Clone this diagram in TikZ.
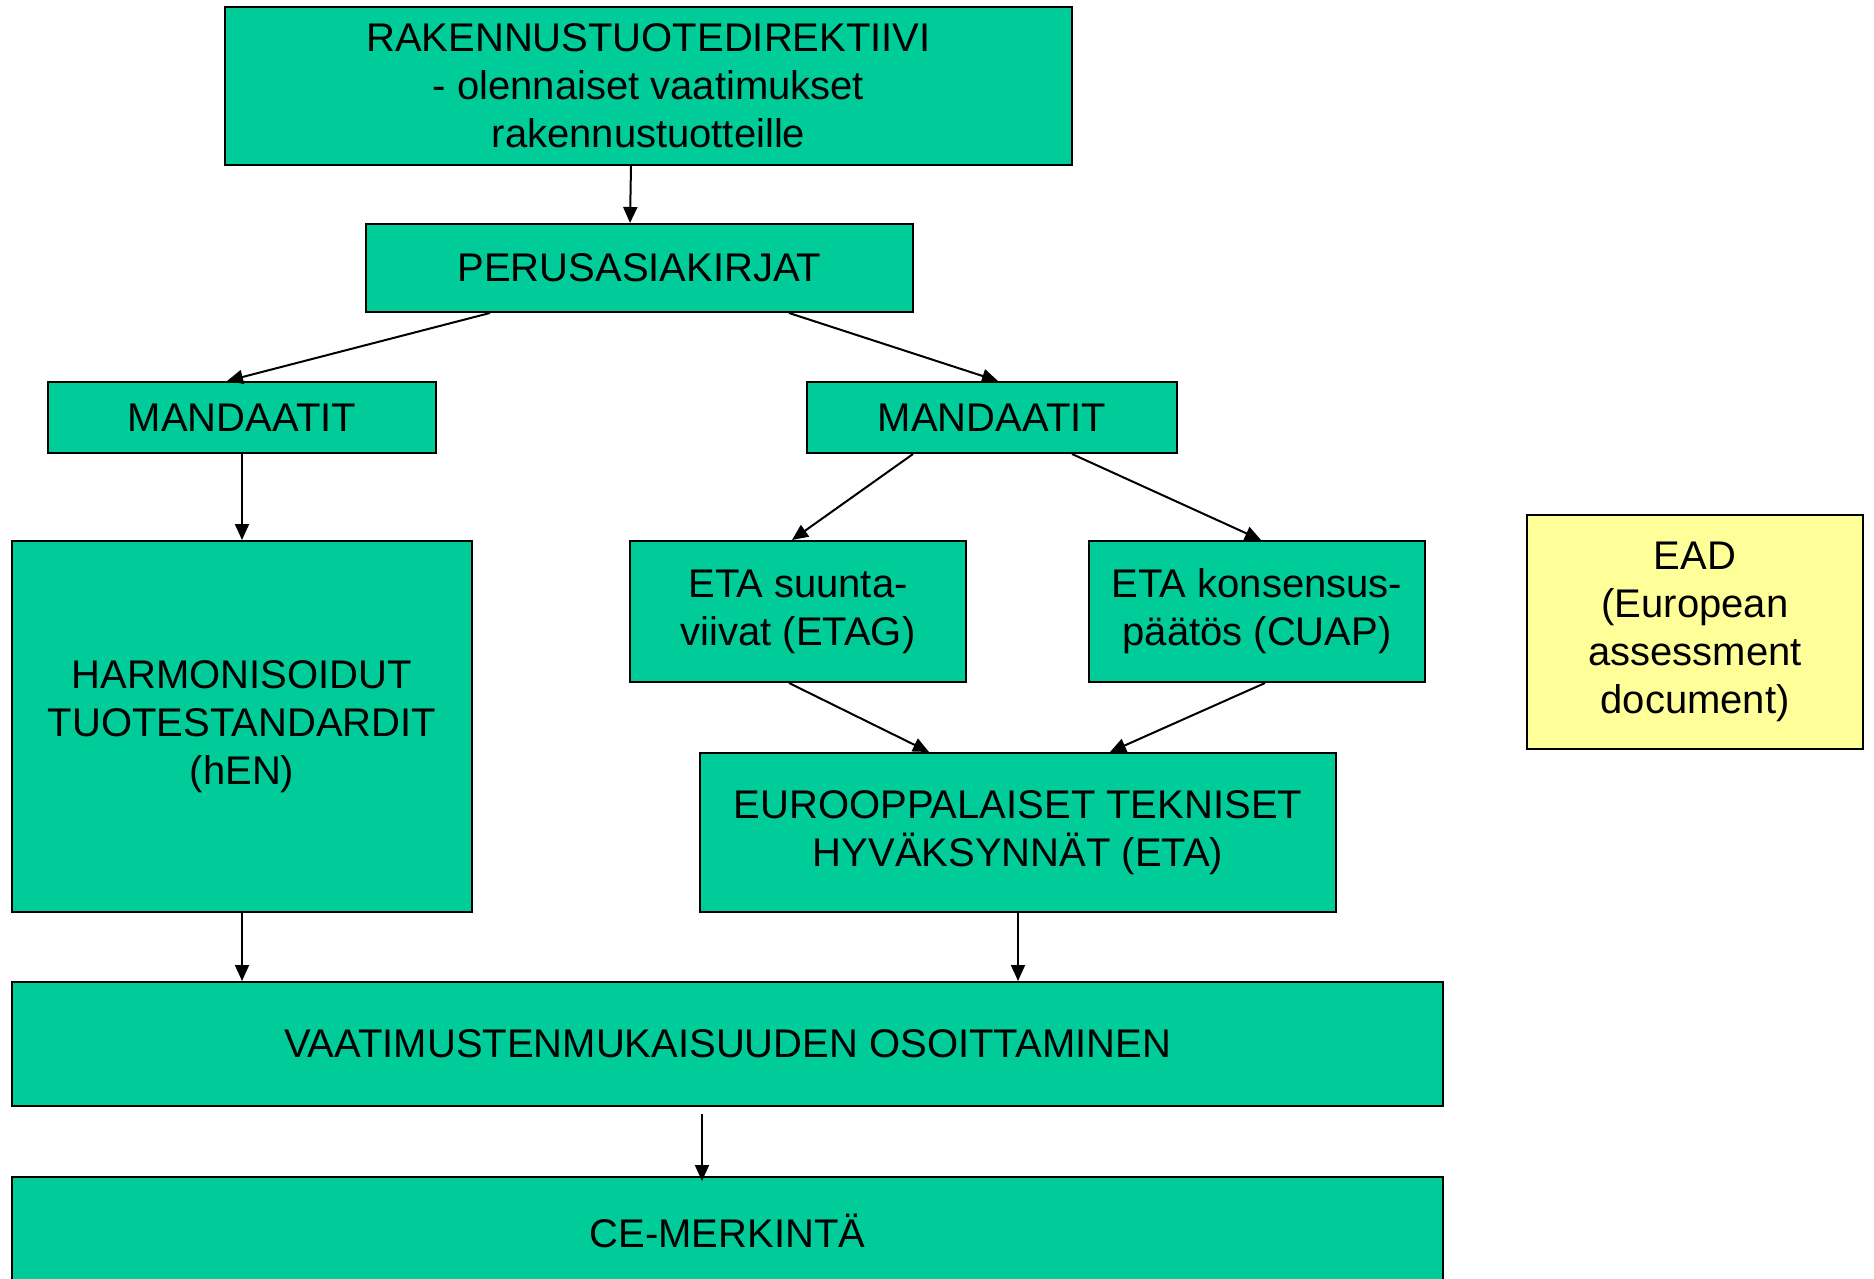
\documentclass[tikz,border=0pt]{standalone}
\usepackage{fontspec}
\setmainfont{Liberation Sans}
\usetikzlibrary{arrows.meta}
\definecolor{boxgreen}{RGB}{0,204,153}
\definecolor{boxyellow}{RGB}{255,255,153}
\begin{document}
\begin{tikzpicture}[x=1pt,y=-1pt,
  box/.style={draw=black, line width=2pt, fill=boxgreen, align=center, inner sep=0pt,
    font=\fontsize{40}{48}\selectfont},
  ybox/.style={box, fill=boxyellow},
  arr/.style={line width=2pt, -{Triangle[length=16pt,width=14pt]}}]
\useasboundingbox (0,0) rectangle (1874,1279);
\fill[white] (0,0) rectangle (1874,1279);
\clip (0,0) rectangle (1874,1279);

\node[box, minimum width=847, minimum height=158] (top) at (648.5,86)
  {RAKENNUSTUOTEDIREKTIIVI\\- olennaiset vaatimukset\\rakennustuotteille};
\node[box, minimum width=547, minimum height=88] (perus) at (639.5,268) {PERUSASIAKIRJAT};
\node[box, minimum width=388, minimum height=71] (mandL) at (242,417.5) {MANDAATIT};
\node[box, minimum width=370, minimum height=71] (mandR) at (992,417.5) {MANDAATIT};
\node[box, minimum width=460, minimum height=371] (harm) at (242,726.5)
  {HARMONISOIDUT\\TUOTESTANDARDIT\\(hEN)};
\node[box, minimum width=336, minimum height=141] (etag) at (798,611.5)
  {ETA suunta-\\viivat (ETAG)};
\node[box, minimum width=336, minimum height=141] (cuap) at (1257,611.5)
  {ETA konsensus-\\päätös (CUAP)};
\node[ybox, minimum width=336, minimum height=234] (ead) at (1695,632)
  {EAD\\(European\\assessment\\document)};
\node[box, minimum width=636, minimum height=159] (eta) at (1018,832.5)
  {EUROOPPALAISET TEKNISET\\HYVÄKSYNNÄT (ETA)};
\node[box, minimum width=1431, minimum height=124] (vaat) at (727.5,1044)
  {VAATIMUSTENMUKAISUUDEN OSOITTAMINEN};
\node[box, minimum width=1431, minimum height=108] (ce) at (727.5,1231)
  {CE-MERKINTÄ};

\draw[arr] ([xshift=-17.5]top.south) -- ([xshift=-9.5]perus.north);
\draw[arr] ([xshift=-149.5]perus.south) -- ([xshift=-15]mandL.north);
\draw[arr] ([xshift=149.5]perus.south) -- ([xshift=6]mandR.north);
\draw[arr] (mandL.south) -- (harm.north);
\draw[arr] ([xshift=-79]mandR.south) -- ([xshift=-6]etag.north);
\draw[arr] ([xshift=80]mandR.south) -- ([xshift=4]cuap.north);
\draw[arr] ([xshift=-9]etag.south) -- ([xshift=-89]eta.north);
\draw[arr] ([xshift=8]cuap.south) -- ([xshift=92]eta.north);
\draw[arr] (harm.south) -- (harm.south |- vaat.north);
\draw[arr] (eta.south) -- (eta.south |- vaat.north);
\draw[arr] ([xshift=-25.5,yshift=-7]vaat.south) -- ([xshift=-25.5,yshift=-5]ce.north);
\end{tikzpicture}
\end{document}
